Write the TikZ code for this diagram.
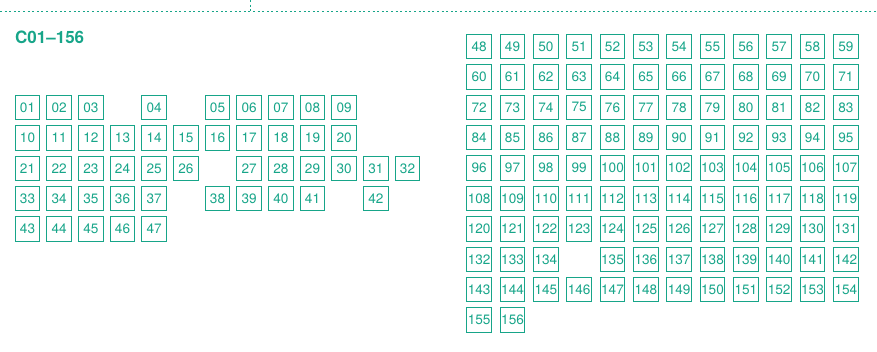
\documentclass[tikz,border=0pt]{standalone}
\usepackage{fontspec}
\setmainfont{TeX Gyre Heros}
\usepackage{xcolor}
\usetikzlibrary{positioning}
\definecolor{mint}{HTML}{17A589}

\begin{document}
\begin{tikzpicture}[
  x=1pt, y=-1pt,
  seat/.style={draw=mint, line width=1pt, minimum size=24.5pt, inner sep=0pt,
               text=mint, font=\fontsize{13.6}{15}\selectfont},
  guide/.style={draw=mint, line width=1pt, dash pattern=on 2pt off 2.6pt},
  heading/.style={anchor=base west, text=mint, inner sep=0pt,
                  font=\bfseries\fontsize{17}{20}\selectfont}
]
\useasboundingbox (0,0) rectangle (877,351);
% dotted guide lines
\coordinate (edgeL) at (0,11);
\coordinate (edgeR) at (877,11);
\coordinate (tickT) at (250.7,0);
\coordinate (tickB) at (250.7,11);
\draw[guide] (edgeL) -- (edgeR);
\draw[guide] (tickT) -- (tickB);
\node[heading] (title) at (15,43) {C01–156};

% left block
\foreach \c/\n in {0/01,1/02,2/03,4/04,6/05,7/06,8/07,9/08,10/09}
  \node[seat] (s\n) at ({27.5+31.67*\c},107.5) {\n};
\foreach \c in {0,...,10}{
  \pgfmathtruncatemacro\n{10+\c}
  \node[seat] (s\n) at ({27.5+31.67*\c},137.9) {\n};
}
\foreach \c in {0,...,5,7,8,...,12}{
  \pgfmathtruncatemacro\n{\c<6 ? 21+\c : 20+\c}
  \node[seat] (s\n) at ({27.5+31.67*\c},168.3) {\n};
}
\foreach \c/\n in {0/33,1/34,2/35,3/36,4/37,6/38,7/39,8/40,9/41,11/42}
  \node[seat] (s\n) at ({27.5+31.67*\c},198.7) {\n};
\foreach \c in {0,...,4}{
  \pgfmathtruncatemacro\n{43+\c}
  \node[seat] (s\n) at ({27.5+31.67*\c},229.1) {\n};
}

% right block
\foreach \r in {0,...,6}
  \foreach \c in {0,...,11}{
    \pgfmathtruncatemacro\n{48+12*\r+\c}
    \node[seat] (s\n) at ({479.2+33.33*\c},{46.5+30.4*\r}) {\n};
  }
\foreach \c in {0,1,2,4,5,...,11}{
  \pgfmathtruncatemacro\n{\c<3 ? 132+\c : 131+\c}
  \node[seat] (s\n) at ({479.2+33.33*\c},{46.5+30.4*7}) {\n};
}
\foreach \c in {0,...,11}{
  \pgfmathtruncatemacro\n{143+\c}
  \node[seat] (s\n) at ({479.2+33.33*\c},{46.5+30.4*8}) {\n};
}
\foreach \c/\n in {0/155,1/156}
  \node[seat] (s\n) at ({479.2+33.33*\c},{46.5+30.4*9}) {\n};
\end{tikzpicture}
\end{document}
